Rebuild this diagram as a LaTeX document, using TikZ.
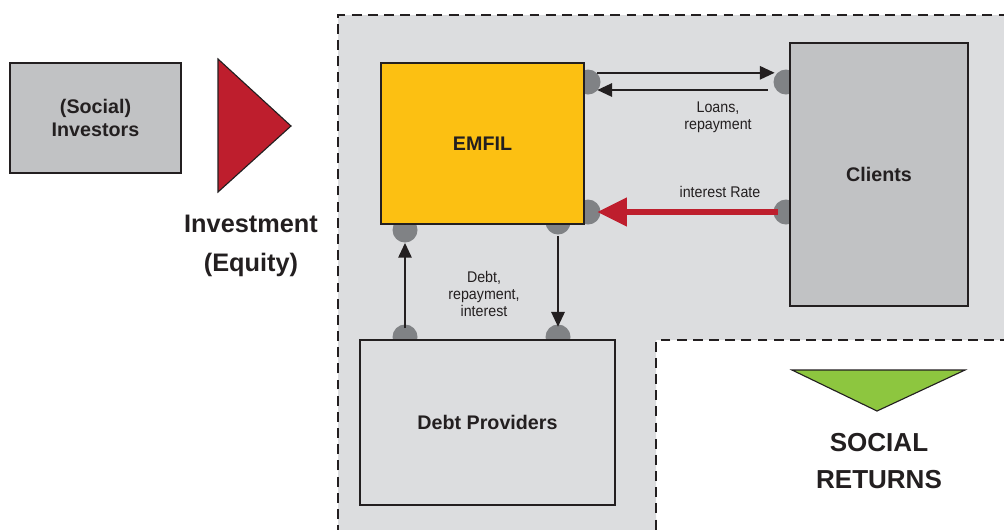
\documentclass[tikz,border=0pt]{standalone}
\usepackage{fontspec}
\setmainfont{Liberation Sans}
\newfontfamily\narrowfont[FakeStretch=0.92]{Liberation Sans}
\usepackage{xcolor}
\usetikzlibrary{arrows.meta}

\definecolor{panelgray}{HTML}{DCDDDF}
\definecolor{boxgray}{HTML}{C1C2C4}
\definecolor{dotgray}{HTML}{808285}
\definecolor{inkdark}{HTML}{231F20}
\definecolor{emfilyellow}{HTML}{FCC012}
\definecolor{investred}{HTML}{BE1E2D}
\definecolor{returngreen}{HTML}{8DC63F}

\begin{document}
\begin{tikzpicture}[x=0.025cm, y=-0.025cm, >={Triangle[length=10.5pt, width=9.5pt]},
    box/.style={draw=inkdark, line width=1.4pt, fill=boxgray, text=inkdark, align=center,
        font=\bfseries\fontsize{14}{16.5}\selectfont},
    dot/.style={circle, fill=dotgray, minimum size=0.625cm, inner sep=0pt},
    flow/.style={->, draw=inkdark, line width=1.3pt},
    lbl/.style={text=inkdark, align=center, font=\narrowfont\fontsize{11}{12.2}\selectfont},
    big/.style={text=inkdark, align=center, font=\bfseries\fontsize{18}{28}\selectfont}]

    \clip (0,0) rectangle (1004,529);

    % shaded area of the fund with its dashed border
    \fill[panelgray] (338,535) -- (338,15) -- (1010,15) -- (1010,340) -- (656,340) -- (656,535) -- cycle;
    \draw[inkdark, line width=1.6pt, dash pattern=on 7pt off 4.5pt]
        (338,535) -- (338,15) -- (1010,15)
        (1010,340) -- (656,340) -- (656,535);

    % connection points
    \node[dot] (e1) at (588,82) {};
    \node[dot] (e2) at (588,212) {};
    \node[dot] (e3) at (405,230) {};
    \node[dot] (e4) at (558,222) {};
    \node[dot] (c1) at (786,82) {};
    \node[dot] (c2) at (786,212) {};
    \node[dot] (d1) at (405,337) {};
    \node[dot] (d2) at (558,337) {};

    \node[box, minimum width=4.275cm, minimum height=2.75cm] (investors) at (95.5,118) {(Social)\\Investors};
    \node[box, fill=emfilyellow, minimum width=5.075cm, minimum height=4.025cm] (emfil) at (482.5,143.5) {EMFIL};
    \node[box, minimum width=4.45cm, minimum height=6.575cm] (clients) at (879,174.5) {Clients};
    \node[box, fill=panelgray, minimum width=6.375cm, minimum height=4.125cm] (debt) at (487.5,422.5) {Debt Providers};

    % investment and returns
    \fill[investred, draw=inkdark, line width=0.8pt] (218,59) -- (291,126) -- (218,192) -- cycle;
    \node[big] (invest) at (251,246) {Investment\\(Equity)};
    \fill[returngreen, draw=inkdark, line width=0.8pt] (792,370) -- (965,370) -- (877,411) -- cycle;
    \node[big, font=\bfseries\fontsize{18.5}{26.5}\selectfont] (returns) at (879,461) {SOCIAL\\RETURNS};

    % flows
    \draw[flow, shorten <=-2.5pt, shorten >=-1pt] ([yshift=0.23cm]e1.east) -- ([yshift=0.23cm]c1.west);
    \draw[flow, shorten <=4pt, shorten >=-2.5pt] ([yshift=-0.2cm]c1.west) -- ([yshift=-0.2cm]e1.east);
    \draw[->, draw=investred, line width=4.2pt, >={Triangle[length=21pt, width=19.5pt]},
        shorten <=-3.2pt, shorten >=-2.5pt] (c2.west) -- (e2.east);
    \draw[flow, shorten <=6.4pt, shorten >=9.2pt] (d1.center) -- (e3.center);
    \draw[flow, shorten <=10pt, shorten >=7.3pt] (e4.center) -- (d2.center);

    \node[lbl] (loans) at (718,117) {Loans,\\repayment};
    \node[lbl] (rate) at (720,192) {interest Rate};
    \node[lbl] (debtflow) at (484,294) {Debt,\\repayment,\\interest};
\end{tikzpicture}
\end{document}
